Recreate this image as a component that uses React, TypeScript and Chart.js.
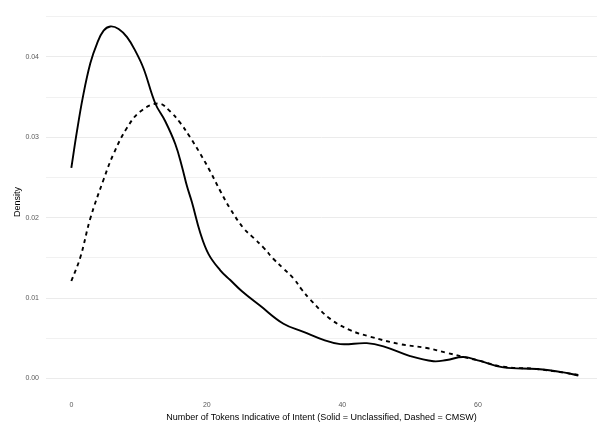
import React, { useEffect, useRef } from "react";
import { Chart, registerables } from "chart.js";

Chart.register(...registerables);

// Kernel density estimates of token counts per document
const unclassifiedX = [0, 0.8, 1.7, 2.8, 3.79, 4.76, 5.75, 6.98, 8.22, 9.44, 10.66, 12.39, 13.86, 15.34, 16.33, 17.06, 17.8, 19.03, 20.25, 21.98, 23.45, 25.18, 27.88, 31.31, 34.26, 37.21, 39.68, 43.61, 46.06, 50.0, 53.44, 55.41, 57.86, 60.32, 63.76, 68.69, 72.61, 74.82];
const unclassifiedY = [0.0262, 0.0306, 0.035, 0.0392, 0.04166, 0.04326, 0.04378, 0.04347, 0.04245, 0.04075, 0.03855, 0.0342, 0.03199, 0.02916, 0.02634, 0.02393, 0.02191, 0.0181, 0.01547, 0.01345, 0.01224, 0.01084, 0.00903, 0.0068, 0.0058, 0.0048, 0.00427, 0.00439, 0.00399, 0.00278, 0.00214, 0.0023, 0.00266, 0.00218, 0.00137, 0.00117, 0.00076, 0.00036];

const cmswX = [0, 1.33, 2.8, 4.76, 6.24, 8.22, 10.18, 12.88, 14.6, 16.08, 17.55, 19.03, 20.5, 21.98, 23.45, 25.41, 26.89, 28.36, 29.84, 31.31, 32.79, 34.03, 35.25, 38.2, 41.15, 44.1, 48.53, 52.46, 55.41, 57.86, 60.32, 63.76, 68.69, 74.82];
const cmswY = [0.01212, 0.01507, 0.0199, 0.02474, 0.02795, 0.03118, 0.0332, 0.0342, 0.0332, 0.03178, 0.02997, 0.02795, 0.02574, 0.02332, 0.02111, 0.01869, 0.01749, 0.01628, 0.01486, 0.01366, 0.01245, 0.01103, 0.00982, 0.00741, 0.00601, 0.0052, 0.00427, 0.00378, 0.00318, 0.00269, 0.00218, 0.00145, 0.00117, 0.00045];

const xTicks = [0, 20, 40, 60];
const yMajorTicks = [0, 0.01, 0.02, 0.03, 0.04];
const yMinorTicks = [0.005, 0.015, 0.025, 0.035, 0.045];
const yTickLabels = ["0.00", "0.01", "0.02", "0.03", "0.04"];

const xTitle = "Number of Tokens Indicative of Intent (Solid = Unclassified, Dashed = CMSW)";
const yTitle = "Density";

const FONT = "'Liberation Sans', Arial, sans-serif";

const toPoints = (xs: number[], ys: number[]) => xs.map((x, i) => ({ x, y: ys[i] }));

export default function App() {
  const canvasRef = useRef<HTMLCanvasElement | null>(null);

  useEffect(() => {
    const canvas = canvasRef.current;
    if (!canvas) return;
    const isMajor = (v: number) => yMajorTicks.some((m) => Math.abs(m - v) < 1e-9);

    const chart = new Chart(canvas, {
      type: "line",
      data: {
        datasets: [
          {
            label: "Unclassified",
            data: toPoints(unclassifiedX, unclassifiedY),
            borderColor: "#000000",
            borderWidth: 1.9,
            pointRadius: 0,
            tension: 0.4,
            fill: false,
          },
          {
            label: "CMSW",
            data: toPoints(cmswX, cmswY),
            borderColor: "#000000",
            borderWidth: 1.9,
            borderDash: [4, 4],
            pointRadius: 0,
            tension: 0.4,
            fill: false,
          },
        ],
      },
      options: {
        responsive: false,
        animation: false,
        layout: { padding: 0 },
        plugins: { legend: { display: false }, tooltip: { enabled: false } },
        scales: {
          x: {
            type: "linear",
            min: -3.74,
            max: 77.58,
            grid: { display: false, drawTicks: false },
            border: { display: false },
            afterBuildTicks: (scale: any) => {
              scale.ticks = xTicks.map((v) => ({ value: v }));
            },
            afterFit: (scale: any) => {
              scale.height = 34;
            },
            ticks: {
              autoSkip: false,
              maxRotation: 0,
              padding: 8,
              color: "#5a5a5a",
              font: { family: FONT, size: 7 },
              callback: (v: any) => String(v),
            },
            title: {
              display: true,
              text: xTitle,
              color: "#000000",
              font: { family: FONT, size: 9 },
              padding: { top: 0, bottom: 4 },
            },
          },
          y: {
            type: "linear",
            min: -0.00181,
            max: 0.04568,
            grid: {
              drawTicks: false,
              color: "#ebebeb",
              lineWidth: (ctx: any) => (ctx.tick && isMajor(ctx.tick.value) ? 1 : 0.7),
            },
            border: { display: false },
            afterBuildTicks: (scale: any) => {
              scale.ticks = [...yMajorTicks, ...yMinorTicks]
                .sort((a, b) => a - b)
                .map((v) => ({ value: v }));
            },
            afterFit: (scale: any) => {
              scale.width = 46;
            },
            ticks: {
              autoSkip: false,
              padding: 7,
              color: "#5a5a5a",
              font: { family: FONT, size: 7 },
              callback: (v: any) => {
                const idx = yMajorTicks.findIndex((m) => Math.abs(m - v) < 1e-9);
                return idx >= 0 ? yTickLabels[idx] : "";
              },
            },
            title: {
              display: true,
              text: yTitle,
              color: "#000000",
              font: { family: FONT, size: 9 },
              padding: { top: 12, bottom: 0 },
            },
          },
        },
      },
    });
    return () => chart.destroy();
  }, []);

  return (
    <div style={{ position: "fixed", left: 0, top: 0, width: 597, height: 427, background: "#ffffff" }}>
      <canvas ref={canvasRef} width={597} height={427} style={{ display: "block" }} />
    </div>
  );
}
